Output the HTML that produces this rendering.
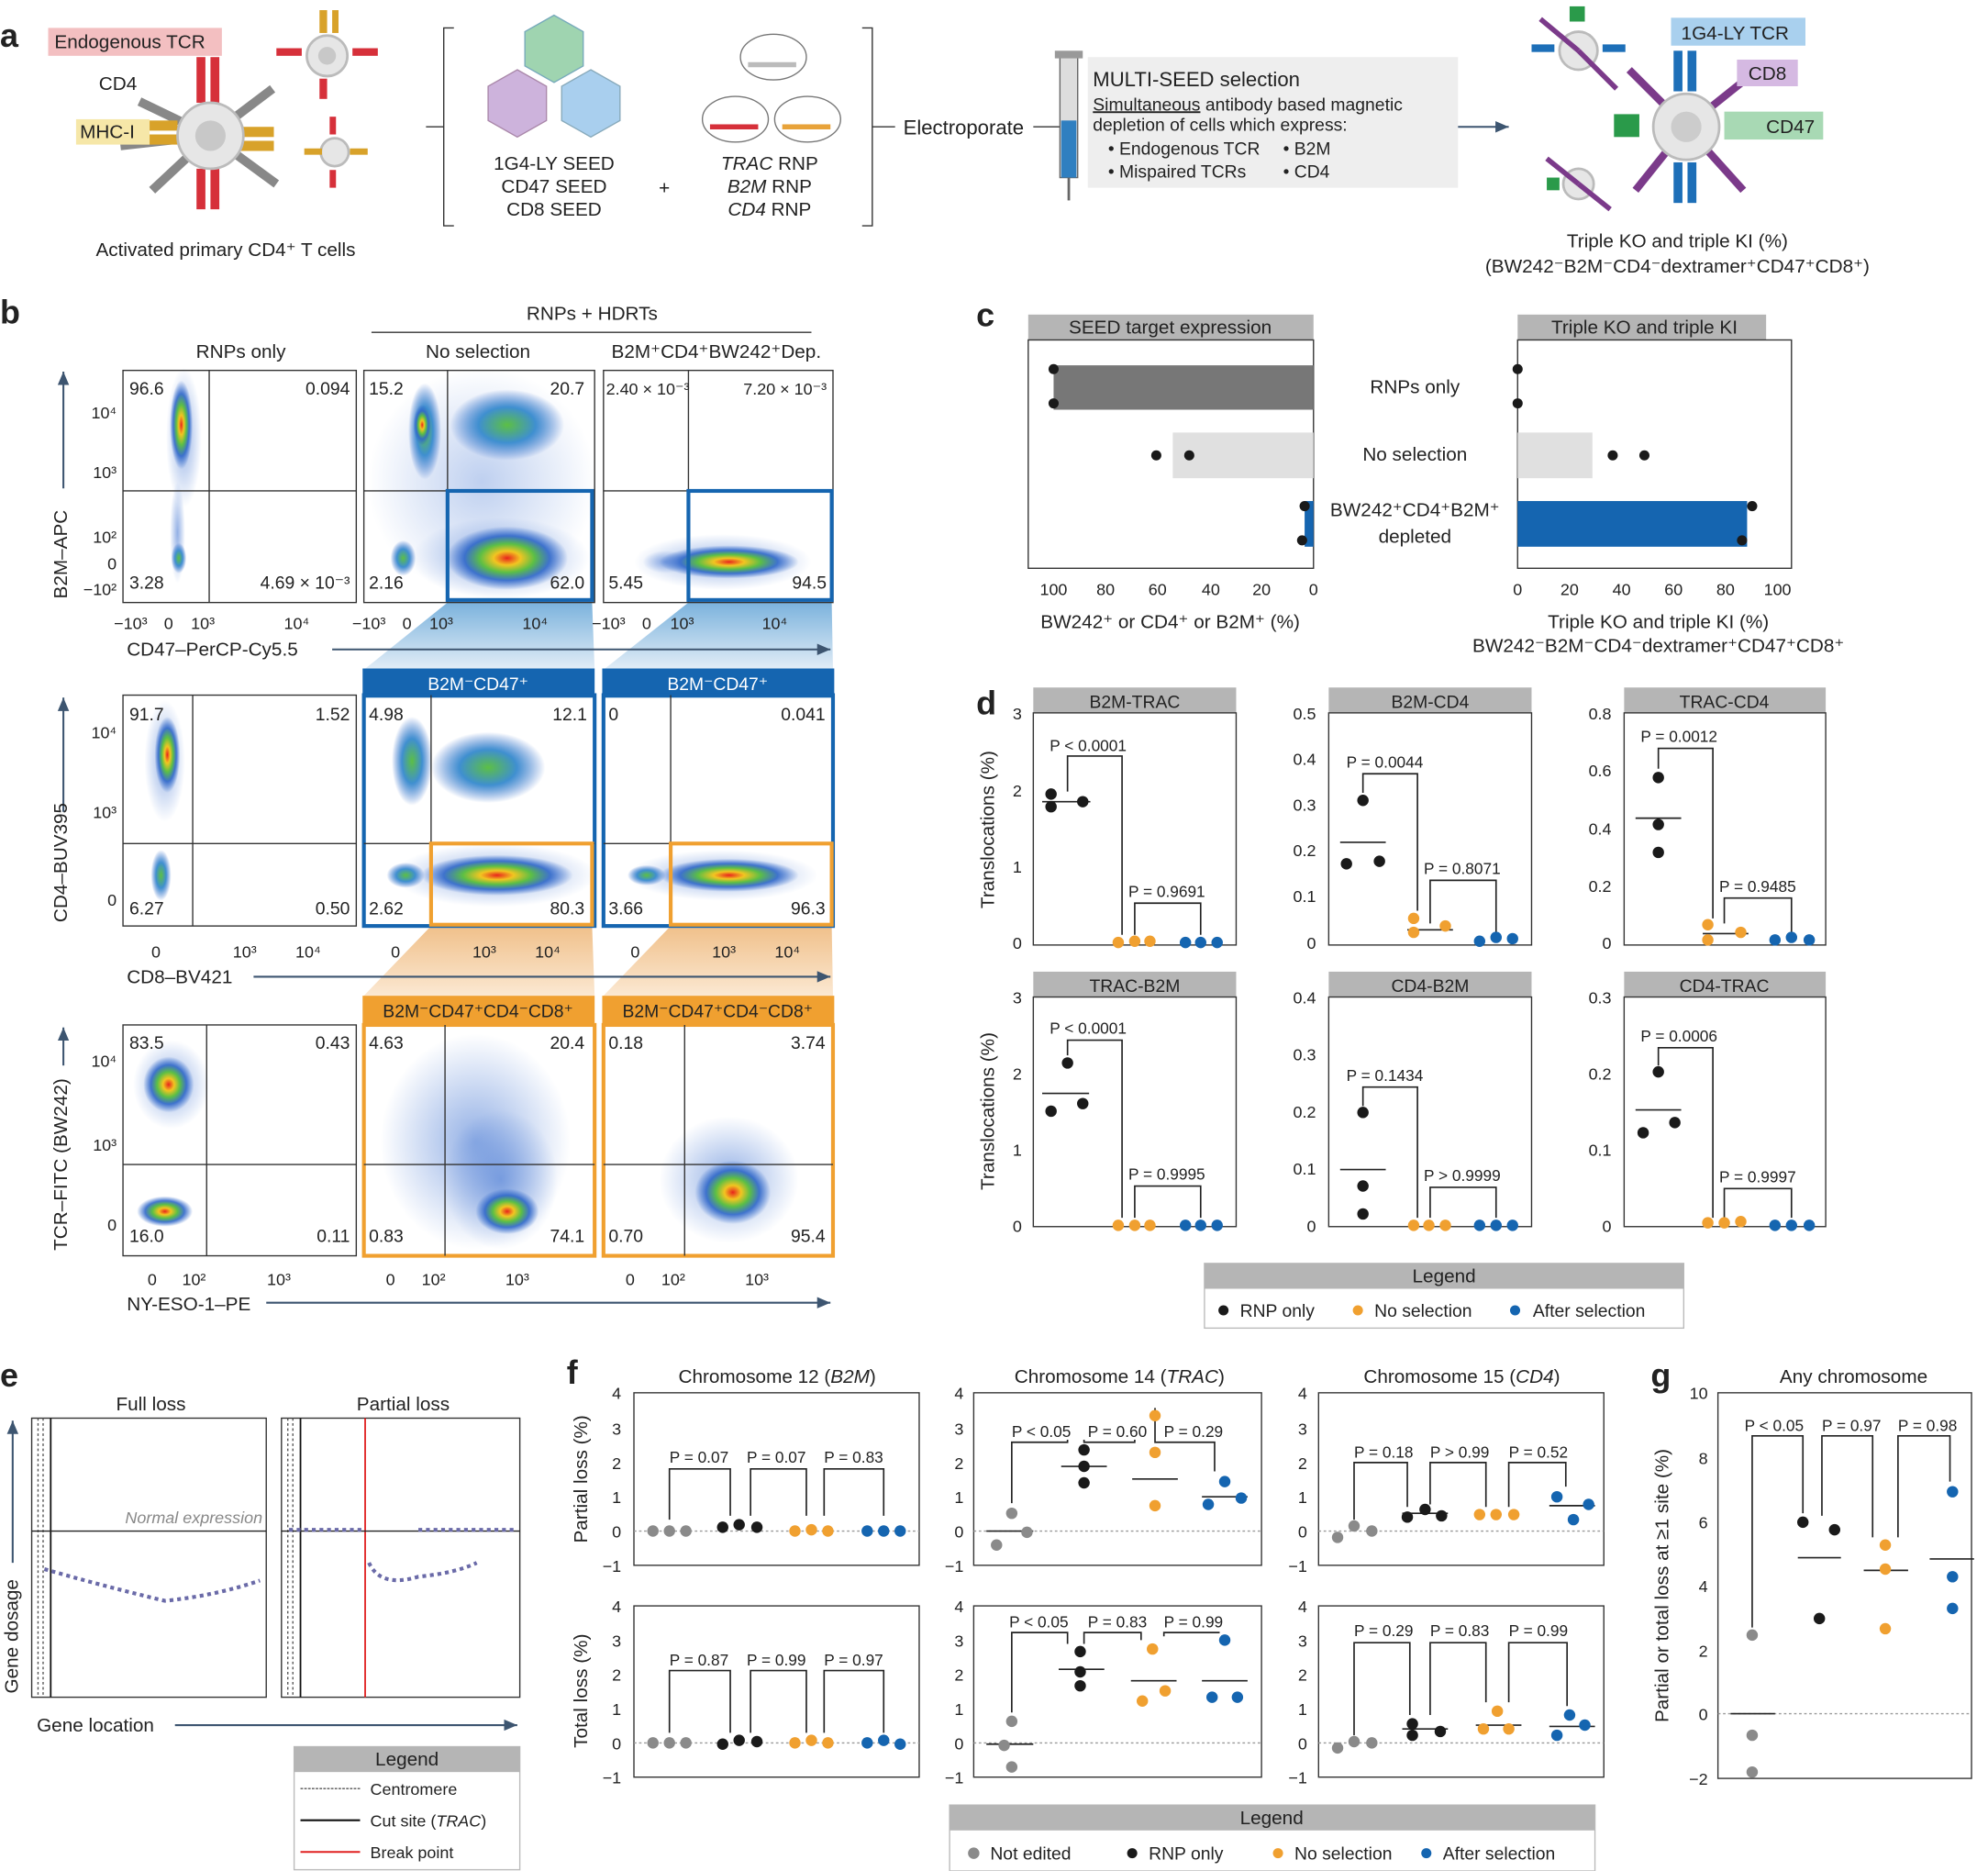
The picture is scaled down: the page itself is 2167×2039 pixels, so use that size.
<!DOCTYPE html>
<html><head><meta charset="utf-8"><style>
html,body{margin:0;padding:0;background:#fff}
svg{display:block}
text{font-family:"Liberation Sans",sans-serif;fill:#222}
.t{font-size:14px}.s{font-size:13px}.L{font-size:26px;font-weight:bold}
.bx{fill:none;stroke:#333;stroke-width:1}
.ax{stroke:#333;stroke-width:1;fill:none}
.br{stroke:#222;stroke-width:1.2;fill:none}
</style></head><body>
<svg width="2167" height="2039" viewBox="0 0 1568 1475" preserveAspectRatio="none" xmlns="http://www.w3.org/2000/svg">
<defs>
<radialGradient id="cl"><stop offset="0" stop-color="#e8241c"/><stop offset="0.22" stop-color="#f2c521"/><stop offset="0.45" stop-color="#5cbf45"/><stop offset="0.7" stop-color="#2f67c9" stop-opacity="0.9"/><stop offset="1" stop-color="#2f67c9" stop-opacity="0"/></radialGradient>
<radialGradient id="cg"><stop offset="0" stop-color="#5cbf45"/><stop offset="0.5" stop-color="#3f8fd0"/><stop offset="1" stop-color="#2f67c9" stop-opacity="0"/></radialGradient>
<radialGradient id="hl"><stop offset="0" stop-color="#3a6fd0" stop-opacity="0.55"/><stop offset="1" stop-color="#3a6fd0" stop-opacity="0"/></radialGradient>
<linearGradient id="bg" x1="0" y1="0" x2="0" y2="1"><stop offset="0" stop-color="#5a9fd4"/><stop offset="1" stop-color="#dbe9f5"/></linearGradient>
<linearGradient id="og" x1="0" y1="0" x2="0" y2="1"><stop offset="0" stop-color="#f0c08a"/><stop offset="1" stop-color="#fbe8d2"/></linearGradient>
<marker id="ar" markerWidth="8" markerHeight="8" refX="7" refY="4" orient="auto"><path d="M0,1 L7,4 L0,7 z" fill="#3d5570"/></marker>
</defs>

<text class="L" x="0" y="37">a</text><text class="L" x="0" y="255">b</text><text class="L" x="770" y="257">c</text>
<text class="L" x="770" y="563">d</text><text class="L" x="0" y="1093">e</text><text class="L" x="447" y="1091">f</text><text class="L" x="1302" y="1093">g</text>

<!-- ===== Panel a ===== -->
<g>
<g stroke="#888" stroke-width="7">
<line x1="166" y1="107" x2="110" y2="80"/><line x1="166" y1="107" x2="120" y2="150"/><line x1="166" y1="107" x2="215" y2="70"/><line x1="166" y1="107" x2="218" y2="145"/><line x1="166" y1="107" x2="95" y2="115"/>
</g>
<g fill="#d6303a"><rect x="155" y="45" width="7" height="36"/><rect x="166" y="45" width="7" height="36"/><rect x="155" y="133" width="7" height="32"/><rect x="166" y="133" width="7" height="32"/></g>
<g fill="#d8a22a"><rect x="112" y="95" width="28" height="8"/><rect x="112" y="106" width="28" height="8"/><rect x="190" y="100" width="26" height="8"/><rect x="190" y="111" width="26" height="8"/></g>
<circle cx="166" cy="107" r="26" fill="#e6e6e6" stroke="#bbb" stroke-width="2"/><circle cx="166" cy="107" r="12" fill="#c8c8c8"/>
<circle cx="258" cy="44" r="16" fill="#e6e6e6" stroke="#bbb" stroke-width="2"/><circle cx="258" cy="44" r="7" fill="#c8c8c8"/>
<g fill="#d6303a"><rect x="218" y="38" width="20" height="6"/><rect x="278" y="38" width="20" height="6"/><rect x="252" y="62" width="6" height="16"/></g>
<g fill="#d8a22a"><rect x="252" y="8" width="6" height="18"/><rect x="262" y="8" width="5" height="18"/></g>
<circle cx="264" cy="120" r="11" fill="#e6e6e6" stroke="#bbb" stroke-width="2"/>
<g fill="#d6303a"><rect x="260" y="92" width="5" height="14"/><rect x="260" y="134" width="5" height="14"/></g><g fill="#d8a22a"><rect x="240" y="117" width="14" height="5"/><rect x="276" y="117" width="14" height="5"/></g>
<rect x="38" y="22" width="137" height="22" fill="#f3bfc1"/><text class="t" x="43" y="38" style="font-size:15px">Endogenous TCR</text>
<text class="t" x="78" y="71" style="font-size:15px">CD4</text>
<rect x="60" y="94" width="58" height="20" fill="#f6e7a8"/><text class="t" x="63" y="109" style="font-size:15px">MHC-I</text>
<text class="t" x="178" y="202" text-anchor="middle" style="font-size:15px">Activated primary CD4⁺ T cells</text>

<path d="M358,22 H350 V178 H358" class="ax" stroke-width="1.5"/><path d="M680,22 H688 V178 H680" class="ax" stroke-width="1.5"/>
<line x1="336" y1="100" x2="350" y2="100" class="ax"/>
<polygon points="437,12 460,25 460,52 437,65 414,52 414,25" fill="#9fd4b0" stroke="#7ab" stroke-width="1"/>
<polygon points="408,55 431,68 431,95 408,108 385,95 385,68" fill="#cdb3dc" stroke="#a8a" stroke-width="1"/>
<polygon points="466,55 489,68 489,95 466,108 443,95 443,68" fill="#a9cfee" stroke="#8ab" stroke-width="1"/>
<text class="t" x="437" y="134" text-anchor="middle" style="font-size:15px">1G4-LY SEED</text><text class="t" x="437" y="152" text-anchor="middle" style="font-size:15px">CD47 SEED</text><text class="t" x="437" y="170" text-anchor="middle" style="font-size:15px">CD8 SEED</text>
<text class="t" x="524" y="153" text-anchor="middle" style="font-size:15px">+</text>
<ellipse cx="610" cy="45" rx="26" ry="18" fill="#fff" stroke="#777"/><ellipse cx="580" cy="94" rx="26" ry="18" fill="#fff" stroke="#777"/><ellipse cx="637" cy="94" rx="26" ry="18" fill="#fff" stroke="#777"/>
<rect x="560" y="98" width="38" height="4" fill="#d6303a"/><rect x="617" y="98" width="38" height="4" fill="#e8a33a"/><rect x="590" y="49" width="38" height="4" fill="#bbb"/>
<text class="t" x="607" y="134" text-anchor="middle" style="font-size:15px"><tspan font-style="italic">TRAC</tspan> RNP</text>
<text class="t" x="607" y="152" text-anchor="middle" style="font-size:15px"><tspan font-style="italic">B2M</tspan> RNP</text>
<text class="t" x="607" y="170" text-anchor="middle" style="font-size:15px"><tspan font-style="italic">CD4</tspan> RNP</text>
<line x1="688" y1="100" x2="706" y2="100" class="ax"/><text class="t" x="760" y="106" text-anchor="middle" style="font-size:16px">Electroporate</text><line x1="815" y1="100" x2="836" y2="100" class="ax"/>
<rect x="836" y="45" width="14" height="95" fill="#ddd" stroke="#666"/><rect x="837" y="95" width="12" height="45" fill="#2f7fc0"/><rect x="832" y="40" width="22" height="6" fill="#999"/><line x1="843" y1="140" x2="843" y2="158" stroke="#666" stroke-width="2"/>
<rect x="858" y="45" width="292" height="103" fill="#eeeeee"/>
<text x="862" y="68" style="font-size:16px">MULTI-SEED selection</text>
<text class="t" x="862" y="87"><tspan text-decoration="underline">Simultaneous</tspan> antibody based magnetic</text>
<text class="t" x="862" y="103">depletion of cells which express:</text>
<text class="t" x="874" y="122">•  Endogenous TCR</text><text class="t" x="1012" y="122">•  B2M</text>
<text class="t" x="874" y="140">•  Mispaired TCRs</text><text class="t" x="1012" y="140">•  CD4</text>
<line x1="1150" y1="100" x2="1190" y2="100" stroke="#3d5570" stroke-width="1.5" marker-end="url(#ar)"/>
<g stroke="#7b3a8a" stroke-width="6"><line x1="1330" y1="100" x2="1285" y2="55"/><line x1="1330" y1="100" x2="1290" y2="150"/><line x1="1330" y1="100" x2="1375" y2="150"/><line x1="1330" y1="100" x2="1380" y2="60"/></g>
<g fill="#1d6fb8"><rect x="1320" y="40" width="7" height="32"/><rect x="1331" y="40" width="7" height="32"/><rect x="1320" y="128" width="7" height="32"/><rect x="1331" y="128" width="7" height="32"/><rect x="1208" y="35" width="18" height="6"/><rect x="1264" y="35" width="18" height="6"/></g>
<g fill="#2a9a4a"><rect x="1273" y="90" width="20" height="18"/><rect x="1366" y="90" width="20" height="18"/><rect x="1238" y="5" width="12" height="12"/><rect x="1220" y="140" width="10" height="10"/></g>
<circle cx="1330" cy="100" r="26" fill="#e6e6e6" stroke="#bbb" stroke-width="2"/><circle cx="1330" cy="100" r="12" fill="#ccc"/>
<circle cx="1245" cy="40" r="15" fill="#e6e6e6" stroke="#bbb" stroke-width="2"/><circle cx="1245" cy="145" r="12" fill="#e6e6e6" stroke="#bbb" stroke-width="2"/>
<g stroke="#7b3a8a" stroke-width="4"><line x1="1245" y1="40" x2="1215" y2="15"/><line x1="1245" y1="40" x2="1275" y2="70"/><line x1="1245" y1="145" x2="1220" y2="125"/><line x1="1245" y1="145" x2="1270" y2="165"/></g>
<rect x="1318" y="14" width="106" height="22" fill="#a9d0ee"/><text class="t" x="1326" y="31" style="font-size:15px">1G4-LY TCR</text>
<rect x="1370" y="47" width="48" height="21" fill="#d5b9e2"/><text class="t" x="1379" y="63" style="font-size:15px">CD8</text>
<rect x="1360" y="88" width="78" height="22" fill="#a8d9b4"/><text class="t" x="1393" y="105" style="font-size:15px">CD47</text>
<text class="t" x="1323" y="195" text-anchor="middle" style="font-size:15px">Triple KO and triple KI (%)</text>
<text class="t" x="1323" y="215" text-anchor="middle" style="font-size:15px">(BW242⁻B2M⁻CD4⁻dextramer⁺CD47⁺CD8⁺)</text>
</g>

<!-- ===== Panel b ===== -->
<text class="t" x="467" y="252" text-anchor="middle" style="font-size:15px">RNPs + HDRTs</text><line x1="293" y1="262" x2="640" y2="262" class="ax"/>
<text class="t" x="190" y="282" text-anchor="middle" style="font-size:15px">RNPs only</text>
<text class="t" x="377" y="282" text-anchor="middle" style="font-size:15px">No selection</text>
<text class="t" x="565" y="282" text-anchor="middle" style="font-size:15px">B2M⁺CD4⁺BW242⁺Dep.</text>

<polygon points="353,475 467,475 469,528 287,528" fill="url(#bg)" opacity="0.8"/>
<polygon points="543,475 656,475 657,528 476,528" fill="url(#bg)" opacity="0.8"/>
<polygon points="340,730 467,730 469,785 287,785" fill="url(#og)"/>
<polygon points="529,730 656,730 657,785 476,785" fill="url(#og)"/>

<g>
<ellipse cx="145" cy="345" rx="14" ry="55" fill="url(#hl)"/><ellipse cx="143" cy="335" rx="9" ry="35" fill="url(#cl)"/>
<ellipse cx="140" cy="420" rx="6" ry="40" fill="url(#hl)"/><ellipse cx="141" cy="440" rx="6" ry="12" fill="url(#cg)"/>
<rect x="97" y="292" width="184" height="183" class="bx"/><line x1="165" y1="292" x2="165" y2="475" class="ax"/><line x1="97" y1="387" x2="281" y2="387" class="ax"/>
<text class="t" x="102" y="311">96.6</text><text class="t" x="276" y="311" text-anchor="end">0.094</text><text class="t" x="102" y="464">3.28</text><text class="t" x="276" y="464" text-anchor="end">4.69 × 10⁻³</text>

<ellipse cx="380" cy="380" rx="90" ry="90" fill="url(#hl)" opacity="0.6"/>
<ellipse cx="335" cy="340" rx="13" ry="38" fill="url(#cg)"/><ellipse cx="333" cy="335" rx="7" ry="16" fill="url(#cl)"/>
<ellipse cx="400" cy="335" rx="45" ry="28" fill="url(#cg)"/>
<ellipse cx="395" cy="440" rx="70" ry="32" fill="url(#hl)"/><ellipse cx="400" cy="440" rx="48" ry="25" fill="url(#cl)"/>
<ellipse cx="318" cy="440" rx="10" ry="14" fill="url(#cg)"/>
<rect x="287" y="292" width="182" height="183" class="bx"/><line x1="353" y1="292" x2="353" y2="475" class="ax"/><line x1="287" y1="387" x2="469" y2="387" class="ax"/>
<rect x="353" y="387" width="114" height="86" fill="none" stroke="#1565b0" stroke-width="3"/>
<text class="t" x="291" y="311">15.2</text><text class="t" x="461" y="311" text-anchor="end">20.7</text><text class="t" x="291" y="464">2.16</text><text class="t" x="461" y="464" text-anchor="end">62.0</text>

<ellipse cx="570" cy="443" rx="70" ry="22" fill="url(#hl)"/><ellipse cx="575" cy="443" rx="55" ry="13" fill="url(#cl)"/><ellipse cx="525" cy="443" rx="18" ry="9" fill="url(#hl)"/>
<rect x="476" y="292" width="181" height="183" class="bx"/><line x1="543" y1="292" x2="543" y2="475" class="ax"/><line x1="476" y1="387" x2="657" y2="387" class="ax"/>
<rect x="543" y="387" width="113" height="86" fill="none" stroke="#1565b0" stroke-width="3"/>
<text class="s" x="478" y="311">2.40 × 10⁻³</text><text class="s" x="652" y="311" text-anchor="end">7.20 × 10⁻³</text><text class="t" x="480" y="464">5.45</text><text class="t" x="652" y="464" text-anchor="end">94.5</text>

<line x1="50" y1="385" x2="50" y2="293" stroke="#3d5570" stroke-width="1.5" marker-end="url(#ar)"/>
<text class="t" x="53" y="437" transform="rotate(-90 53 437)" text-anchor="middle" style="font-size:15px">B2M–APC</text>
<text class="s" x="92" y="330" text-anchor="end">10⁴</text><text class="s" x="92" y="377" text-anchor="end">10³</text><text class="s" x="92" y="428" text-anchor="end">10²</text><text class="s" x="92" y="449" text-anchor="end">0</text><text class="s" x="92" y="469" text-anchor="end">−10²</text>
<g class="s" text-anchor="middle"><text x="103" y="496">−10³</text><text x="133" y="496">0</text><text x="160" y="496">10³</text><text x="234" y="496">10⁴</text>
<text x="291" y="496">−10³</text><text x="321" y="496">0</text><text x="348" y="496">10³</text><text x="422" y="496">10⁴</text>
<text x="480" y="496">−10³</text><text x="510" y="496">0</text><text x="538" y="496">10³</text><text x="611" y="496">10⁴</text></g>
<text class="t" x="100" y="517" style="font-size:15px">CD47–PerCP-Cy5.5</text><line x1="262" y1="512" x2="655" y2="512" stroke="#3d5570" stroke-width="1.5" marker-end="url(#ar)"/>
</g>

<g>
<rect x="286" y="527" width="183" height="23" fill="#1565b0"/><text class="t" x="377" y="544" text-anchor="middle" style="fill:#fff">B2M⁻CD47⁺</text>
<rect x="475" y="527" width="183" height="23" fill="#1565b0"/><text class="t" x="566" y="544" text-anchor="middle" style="fill:#fff">B2M⁻CD47⁺</text>
<ellipse cx="130" cy="600" rx="16" ry="48" fill="url(#hl)"/><ellipse cx="132" cy="595" rx="10" ry="30" fill="url(#cl)"/><ellipse cx="127" cy="690" rx="8" ry="20" fill="url(#cg)"/>
<rect x="97" y="548" width="184" height="182" class="bx"/><line x1="152" y1="548" x2="152" y2="730" class="ax"/><line x1="97" y1="665" x2="281" y2="665" class="ax"/>
<text class="t" x="102" y="568">91.7</text><text class="t" x="276" y="568" text-anchor="end">1.52</text><text class="t" x="102" y="721">6.27</text><text class="t" x="276" y="721" text-anchor="end">0.50</text>

<ellipse cx="325" cy="600" rx="16" ry="35" fill="url(#cg)"/><ellipse cx="385" cy="605" rx="45" ry="28" fill="url(#cg)"/>
<ellipse cx="390" cy="690" rx="80" ry="25" fill="url(#hl)"/><ellipse cx="392" cy="690" rx="60" ry="16" fill="url(#cl)"/><ellipse cx="320" cy="690" rx="15" ry="10" fill="url(#cg)"/>
<rect x="287" y="548" width="182" height="182" fill="none" stroke="#1565b0" stroke-width="3"/><line x1="340" y1="548" x2="340" y2="730" class="ax"/><line x1="287" y1="665" x2="469" y2="665" class="ax"/>
<rect x="340" y="665" width="127" height="64" fill="none" stroke="#f0a030" stroke-width="3"/>
<text class="t" x="291" y="568">4.98</text><text class="t" x="463" y="568" text-anchor="end">12.1</text><text class="t" x="291" y="721">2.62</text><text class="t" x="461" y="721" text-anchor="end">80.3</text>

<ellipse cx="570" cy="690" rx="75" ry="20" fill="url(#hl)"/><ellipse cx="575" cy="690" rx="55" ry="13" fill="url(#cl)"/><ellipse cx="510" cy="690" rx="15" ry="8" fill="url(#cg)"/>
<rect x="476" y="548" width="181" height="182" fill="none" stroke="#1565b0" stroke-width="3"/><line x1="529" y1="548" x2="529" y2="730" class="ax"/><line x1="476" y1="665" x2="657" y2="665" class="ax"/>
<rect x="529" y="665" width="127" height="64" fill="none" stroke="#f0a030" stroke-width="3"/>
<text class="t" x="480" y="568">0</text><text class="t" x="651" y="568" text-anchor="end">0.041</text><text class="t" x="480" y="721">3.66</text><text class="t" x="651" y="721" text-anchor="end">96.3</text>

<line x1="50" y1="640" x2="50" y2="550" stroke="#3d5570" stroke-width="1.5" marker-end="url(#ar)"/>
<text class="t" x="53" y="680" transform="rotate(-90 53 680)" text-anchor="middle" style="font-size:15px">CD4–BUV395</text>
<text class="s" x="92" y="582" text-anchor="end">10⁴</text><text class="s" x="92" y="645" text-anchor="end">10³</text><text class="s" x="92" y="714" text-anchor="end">0</text>
<g class="s" text-anchor="middle"><text x="123" y="755">0</text><text x="193" y="755">10³</text><text x="243" y="755">10⁴</text>
<text x="312" y="755">0</text><text x="382" y="755">10³</text><text x="432" y="755">10⁴</text>
<text x="501" y="755">0</text><text x="571" y="755">10³</text><text x="621" y="755">10⁴</text></g>
<text class="t" x="100" y="775" style="font-size:15px">CD8–BV421</text><line x1="200" y1="770" x2="655" y2="770" stroke="#3d5570" stroke-width="1.5" marker-end="url(#ar)"/>
</g>

<g>
<rect x="286" y="785" width="183" height="23" fill="#f0a030"/><text class="t" x="377" y="802" text-anchor="middle">B2M⁻CD47⁺CD4⁻CD8⁺</text>
<rect x="475" y="785" width="183" height="23" fill="#f0a030"/><text class="t" x="566" y="802" text-anchor="middle">B2M⁻CD47⁺CD4⁻CD8⁺</text>
<ellipse cx="135" cy="855" rx="30" ry="35" fill="url(#hl)"/><ellipse cx="133" cy="855" rx="20" ry="22" fill="url(#cl)"/><ellipse cx="130" cy="955" rx="22" ry="12" fill="url(#cl)"/>
<rect x="97" y="808" width="184" height="182" class="bx"/><line x1="163" y1="808" x2="163" y2="990" class="ax"/><line x1="97" y1="918" x2="281" y2="918" class="ax"/>
<text class="t" x="102" y="827">83.5</text><text class="t" x="276" y="827" text-anchor="end">0.43</text><text class="t" x="102" y="979">16.0</text><text class="t" x="276" y="979" text-anchor="end">0.11</text>

<ellipse cx="375" cy="900" rx="75" ry="85" fill="url(#hl)"/><ellipse cx="395" cy="930" rx="45" ry="55" fill="url(#hl)"/><ellipse cx="400" cy="955" rx="25" ry="18" fill="url(#cl)"/>
<rect x="287" y="808" width="182" height="182" fill="none" stroke="#f0a030" stroke-width="3"/><line x1="351" y1="808" x2="351" y2="990" class="ax"/><line x1="287" y1="918" x2="469" y2="918" class="ax"/>
<text class="t" x="291" y="827">4.63</text><text class="t" x="461" y="827" text-anchor="end">20.4</text><text class="t" x="291" y="979">0.83</text><text class="t" x="461" y="979" text-anchor="end">74.1</text>

<ellipse cx="575" cy="930" rx="55" ry="50" fill="url(#hl)"/><ellipse cx="578" cy="940" rx="30" ry="25" fill="url(#cl)"/>
<rect x="476" y="808" width="181" height="182" fill="none" stroke="#f0a030" stroke-width="3"/><line x1="540" y1="808" x2="540" y2="990" class="ax"/><line x1="476" y1="918" x2="657" y2="918" class="ax"/>
<text class="t" x="480" y="827">0.18</text><text class="t" x="651" y="827" text-anchor="end">3.74</text><text class="t" x="480" y="979">0.70</text><text class="t" x="651" y="979" text-anchor="end">95.4</text>

<line x1="50" y1="840" x2="50" y2="810" stroke="#3d5570" stroke-width="1.5" marker-end="url(#ar)"/>
<text class="t" x="53" y="918" transform="rotate(-90 53 918)" text-anchor="middle" style="font-size:15px">TCR–FITC (BW242)</text>
<text class="s" x="92" y="841" text-anchor="end">10⁴</text><text class="s" x="92" y="907" text-anchor="end">10³</text><text class="s" x="92" y="970" text-anchor="end">0</text>
<g class="s" text-anchor="middle"><text x="120" y="1013">0</text><text x="153" y="1013">10²</text><text x="220" y="1013">10³</text>
<text x="308" y="1013">0</text><text x="342" y="1013">10²</text><text x="408" y="1013">10³</text>
<text x="497" y="1013">0</text><text x="531" y="1013">10²</text><text x="597" y="1013">10³</text></g>
<text class="t" x="100" y="1033" style="font-size:15px">NY-ESO-1–PE</text><line x1="210" y1="1027" x2="655" y2="1027" stroke="#3d5570" stroke-width="1.5" marker-end="url(#ar)"/>
</g>

<!-- ===== Panel c ===== -->
<g>
<rect x="811" y="248" width="225" height="20" fill="#b5b5b5"/><text class="t" x="923" y="263" text-anchor="middle" style="font-size:15px">SEED target expression</text>
<rect x="811" y="268" width="225" height="180" class="bx"/>
<rect x="831" y="288" width="205" height="35" fill="#777"/><rect x="925" y="341" width="111" height="36" fill="#e0e0e0"/><rect x="1029" y="395" width="7" height="36" fill="#1565b0"/>
<g fill="#1a1a1a"><circle cx="831" cy="291" r="4"/><circle cx="831" cy="318" r="4"/><circle cx="912" cy="359" r="4"/><circle cx="938" cy="359" r="4"/><circle cx="1029" cy="399" r="4"/><circle cx="1027" cy="426" r="4"/></g>
<g class="s" text-anchor="middle"><text x="831" y="469">100</text><text x="872" y="469">80</text><text x="913" y="469">60</text><text x="955" y="469">40</text><text x="995" y="469">20</text><text x="1036" y="469">0</text></g>
<text class="t" x="923" y="495" text-anchor="middle" style="font-size:15px">BW242⁺ or CD4⁺ or B2M⁺ (%)</text>
<g class="t" text-anchor="middle" style="font-size:15px"><text x="1116" y="310">RNPs only</text><text x="1116" y="363">No selection</text><text x="1116" y="407">BW242⁺CD4⁺B2M⁺</text><text x="1116" y="428">depleted</text></g>
<rect x="1197" y="248" width="196" height="20" fill="#b5b5b5"/><text class="t" x="1297" y="263" text-anchor="middle" style="font-size:15px">Triple KO and triple KI</text>
<rect x="1197" y="268" width="216" height="180" class="bx"/>
<rect x="1197" y="341" width="59" height="36" fill="#e0e0e0"/><rect x="1197" y="395" width="181" height="36" fill="#1565b0"/>
<g fill="#1a1a1a"><circle cx="1197" cy="291" r="4"/><circle cx="1197" cy="318" r="4"/><circle cx="1272" cy="359" r="4"/><circle cx="1297" cy="359" r="4"/><circle cx="1382" cy="399" r="4"/><circle cx="1374" cy="426" r="4"/></g>
<g class="s" text-anchor="middle"><text x="1197" y="469">0</text><text x="1238" y="469">20</text><text x="1279" y="469">40</text><text x="1320" y="469">60</text><text x="1361" y="469">80</text><text x="1402" y="469">100</text></g>
<text class="t" x="1308" y="495" text-anchor="middle" style="font-size:15px">Triple KO and triple KI (%)</text>
<text class="t" x="1308" y="514" text-anchor="middle" style="font-size:15px">BW242⁻B2M⁻CD4⁻dextramer⁺CD47⁺CD8⁺</text>
</g>

<!-- ===== Panel d ===== -->
<g>
<g fill="#b5b5b5"><rect x="815" y="542" width="160" height="20"/><rect x="1048" y="542" width="160" height="20"/><rect x="1281" y="542" width="159" height="20"/>
<rect x="815" y="766" width="160" height="20"/><rect x="1048" y="766" width="160" height="20"/><rect x="1281" y="766" width="159" height="20"/></g>
<g class="t" text-anchor="middle"><text x="895" y="558">B2M-TRAC</text><text x="1128" y="558">B2M-CD4</text><text x="1360" y="558">TRAC-CD4</text>
<text x="895" y="782">TRAC-B2M</text><text x="1128" y="782">CD4-B2M</text><text x="1360" y="782">CD4-TRAC</text></g>
<g class="bx"><rect x="815" y="562" width="160" height="183"/><rect x="1048" y="562" width="160" height="183"/><rect x="1281" y="562" width="159" height="183"/>
<rect x="815" y="786" width="160" height="181"/><rect x="1048" y="786" width="160" height="181"/><rect x="1281" y="786" width="159" height="181"/></g>
<g class="s" text-anchor="end">
<text x="806" y="567">3</text><text x="806" y="628">2</text><text x="806" y="688">1</text><text x="806" y="748">0</text>
<text x="1038" y="567">0.5</text><text x="1038" y="603">0.4</text><text x="1038" y="639">0.3</text><text x="1038" y="675">0.2</text><text x="1038" y="711">0.1</text><text x="1038" y="748">0</text>
<text x="1271" y="567">0.8</text><text x="1271" y="612">0.6</text><text x="1271" y="658">0.4</text><text x="1271" y="703">0.2</text><text x="1271" y="748">0</text>
<text x="806" y="791">3</text><text x="806" y="851">2</text><text x="806" y="911">1</text><text x="806" y="971">0</text>
<text x="1038" y="791">0.4</text><text x="1038" y="836">0.3</text><text x="1038" y="881">0.2</text><text x="1038" y="926">0.1</text><text x="1038" y="971">0</text>
<text x="1271" y="791">0.3</text><text x="1271" y="851">0.2</text><text x="1271" y="911">0.1</text><text x="1271" y="971">0</text></g>
<text class="t" x="784" y="654" transform="rotate(-90 784 654)" text-anchor="middle" style="font-size:15px">Translocations (%)</text>
<text class="t" x="784" y="876" transform="rotate(-90 784 876)" text-anchor="middle" style="font-size:15px">Translocations (%)</text>
<g stroke="#222" stroke-width="1.2">
<line x1="822" y1="632" x2="860" y2="632"/><line x1="1057" y1="664" x2="1093" y2="664"/><line x1="1290" y1="645" x2="1326" y2="645"/>
<line x1="822" y1="862" x2="859" y2="862"/><line x1="1057" y1="922" x2="1093" y2="922"/><line x1="1290" y1="875" x2="1326" y2="875"/>
<line x1="1110" y1="733" x2="1146" y2="733"/><line x1="1343" y1="736" x2="1379" y2="736"/></g>
<g class="br">
<path d="M842,624 V596 H885 V737"/><path d="M895,737 V712 H947 V737"/>
<path d="M1075,625 V610 H1118 V718"/><path d="M1128,728 V694 H1180 V735"/>
<path d="M1308,606 V590 H1351 V724"/><path d="M1360,728 V708 H1413 V735"/>
<path d="M842,832 V820 H885 V960"/><path d="M895,960 V935 H947 V960"/>
<path d="M1075,872 V857 H1118 V960"/><path d="M1128,960 V936 H1180 V960"/>
<path d="M1308,840 V826 H1351 V960"/><path d="M1360,960 V937 H1413 V960"/></g>
<g class="s" style="font-size:12.5px">
<text x="828" y="592">P &lt; 0.0001</text><text x="890" y="707">P = 0.9691</text>
<text x="1062" y="605">P = 0.0044</text><text x="1123" y="689">P = 0.8071</text>
<text x="1294" y="585">P = 0.0012</text><text x="1356" y="703">P = 0.9485</text>
<text x="828" y="815">P &lt; 0.0001</text><text x="890" y="930">P = 0.9995</text>
<text x="1062" y="852">P = 0.1434</text><text x="1123" y="931">P &gt; 0.9999</text>
<text x="1294" y="821">P = 0.0006</text><text x="1356" y="932">P = 0.9997</text></g>
<g fill="#1a1a1a"><circle cx="829" cy="626" r="4.5"/><circle cx="829" cy="636" r="4.5"/><circle cx="854" cy="632" r="4.5"/>
<circle cx="1062" cy="681" r="4.5"/><circle cx="1075" cy="631" r="4.5"/><circle cx="1088" cy="679" r="4.5"/>
<circle cx="1308" cy="613" r="4.5"/><circle cx="1308" cy="650" r="4.5"/><circle cx="1308" cy="672" r="4.5"/>
<circle cx="829" cy="876" r="4.5"/><circle cx="842" cy="838" r="4.5"/><circle cx="854" cy="870" r="4.5"/>
<circle cx="1075" cy="877" r="4.5"/><circle cx="1075" cy="935" r="4.5"/><circle cx="1075" cy="957" r="4.5"/>
<circle cx="1296" cy="893" r="4.5"/><circle cx="1308" cy="845" r="4.5"/><circle cx="1321" cy="885" r="4.5"/></g>
<g fill="#f0a030"><circle cx="882" cy="743" r="4.5"/><circle cx="895" cy="742" r="4.5"/><circle cx="907" cy="742" r="4.5"/>
<circle cx="1115" cy="724" r="4.5"/><circle cx="1115" cy="735" r="4.5"/><circle cx="1140" cy="730" r="4.5"/>
<circle cx="1347" cy="729" r="4.5"/><circle cx="1347" cy="741" r="4.5"/><circle cx="1373" cy="735" r="4.5"/>
<circle cx="882" cy="966" r="4.5"/><circle cx="895" cy="966" r="4.5"/><circle cx="907" cy="966" r="4.5"/>
<circle cx="1115" cy="966" r="4.5"/><circle cx="1127" cy="966" r="4.5"/><circle cx="1140" cy="966" r="4.5"/>
<circle cx="1347" cy="964" r="4.5"/><circle cx="1360" cy="964" r="4.5"/><circle cx="1373" cy="963" r="4.5"/></g>
<g fill="#1565b0"><circle cx="935" cy="743" r="4.5"/><circle cx="947" cy="743" r="4.5"/><circle cx="960" cy="743" r="4.5"/>
<circle cx="1167" cy="742" r="4.5"/><circle cx="1180" cy="739" r="4.5"/><circle cx="1193" cy="740" r="4.5"/>
<circle cx="1400" cy="741" r="4.5"/><circle cx="1413" cy="739" r="4.5"/><circle cx="1427" cy="741" r="4.5"/>
<circle cx="935" cy="966" r="4.5"/><circle cx="947" cy="966" r="4.5"/><circle cx="960" cy="966" r="4.5"/>
<circle cx="1167" cy="966" r="4.5"/><circle cx="1180" cy="966" r="4.5"/><circle cx="1193" cy="966" r="4.5"/>
<circle cx="1400" cy="966" r="4.5"/><circle cx="1413" cy="966" r="4.5"/><circle cx="1427" cy="966" r="4.5"/></g>
<rect x="950" y="996" width="378" height="51" fill="none" stroke="#bbb"/><rect x="950" y="996" width="378" height="20" fill="#b5b5b5"/>
<text class="t" x="1139" y="1011" text-anchor="middle" style="font-size:15px">Legend</text>
<circle cx="965" cy="1033" r="4" fill="#1a1a1a"/><text class="t" x="978" y="1038">RNP only</text>
<circle cx="1071" cy="1033" r="4" fill="#f0a030"/><text class="t" x="1084" y="1038">No selection</text>
<circle cx="1195" cy="1033" r="4" fill="#1565b0"/><text class="t" x="1209" y="1038">After selection</text>
</g>

<!-- ===== Panel e ===== -->
<g>
<text class="t" x="119" y="1112" text-anchor="middle" style="font-size:15px">Full loss</text><text class="t" x="318" y="1112" text-anchor="middle" style="font-size:15px">Partial loss</text>
<rect x="25" y="1118" width="185" height="220" class="bx"/><rect x="222" y="1118" width="188" height="220" class="bx"/>
<g stroke="#555" stroke-dasharray="2,2"><line x1="30" y1="1118" x2="30" y2="1338"/><line x1="34" y1="1118" x2="34" y2="1338"/><line x1="227" y1="1118" x2="227" y2="1338"/><line x1="231" y1="1118" x2="231" y2="1338"/></g>
<line x1="40" y1="1118" x2="40" y2="1338" stroke="#111" stroke-width="1.3"/><line x1="237" y1="1118" x2="237" y2="1338" stroke="#111" stroke-width="1.3"/>
<line x1="288" y1="1118" x2="288" y2="1338" stroke="#e02020" stroke-width="1.3"/>
<line x1="25" y1="1207" x2="210" y2="1207" stroke="#222"/><line x1="222" y1="1207" x2="410" y2="1207" stroke="#222"/>
<text x="207" y="1201" text-anchor="end" style="font-size:13px;font-style:italic;fill:#888">Normal expression</text>
<path d="M35,1237 Q80,1250 130,1262 Q170,1258 205,1246" fill="none" stroke="#6a6aa8" stroke-width="3" stroke-dasharray="3,3"/>
<path d="M228,1206 H286 M291,1232 Q300,1252 330,1243 Q360,1240 376,1232" fill="none" stroke="#6a6aa8" stroke-width="3" stroke-dasharray="3,3"/>
<path d="M330,1206 H408" fill="none" stroke="#6a6aa8" stroke-width="3" stroke-dasharray="3,3"/>
<line x1="10" y1="1232" x2="10" y2="1120" stroke="#3d5570" stroke-width="1.5" marker-end="url(#ar)"/>
<text class="t" x="14" y="1290" transform="rotate(-90 14 1290)" text-anchor="middle" style="font-size:15px">Gene dosage</text>
<text class="t" x="29" y="1365" style="font-size:15px">Gene location</text><line x1="138" y1="1360" x2="408" y2="1360" stroke="#3d5570" stroke-width="1.5" marker-end="url(#ar)"/>
<rect x="232" y="1377" width="178" height="97" fill="none" stroke="#bbb"/><rect x="232" y="1377" width="178" height="20" fill="#b5b5b5"/>
<text class="t" x="321" y="1392" text-anchor="middle" style="font-size:15px">Legend</text>
<line x1="237" y1="1410" x2="284" y2="1410" stroke="#555" stroke-dasharray="2,1"/><text class="s" x="292" y="1415">Centromere</text>
<line x1="237" y1="1435" x2="284" y2="1435" stroke="#111" stroke-width="1.5"/><text class="s" x="292" y="1440">Cut site (<tspan font-style="italic">TRAC</tspan>)</text>
<line x1="237" y1="1460" x2="284" y2="1460" stroke="#e02020" stroke-width="1.5"/><text class="s" x="292" y="1465">Break point</text>
</g>

<!-- ===== Panel f ===== -->
<g>
<g class="t" text-anchor="middle" style="font-size:15px"><text x="613" y="1090">Chromosome 12 (<tspan font-style="italic">B2M</tspan>)</text><text x="883" y="1090">Chromosome 14 (<tspan font-style="italic">TRAC</tspan>)</text><text x="1153" y="1090">Chromosome 15 (<tspan font-style="italic">CD4</tspan>)</text><text x="1462" y="1090">Any chromosome</text></g>
<g class="bx"><rect x="500" y="1098" width="225" height="136"/><rect x="768" y="1098" width="227" height="136"/><rect x="1040" y="1098" width="225" height="136"/>
<rect x="500" y="1266" width="225" height="135"/><rect x="768" y="1266" width="227" height="135"/><rect x="1040" y="1266" width="225" height="135"/>
<rect x="1355" y="1098" width="200" height="304"/></g>
<g stroke="#999" stroke-dasharray="2,2"><line x1="500" y1="1207" x2="725" y2="1207"/><line x1="768" y1="1207" x2="995" y2="1207"/><line x1="1040" y1="1207" x2="1265" y2="1207"/>
<line x1="500" y1="1374" x2="725" y2="1374"/><line x1="768" y1="1374" x2="995" y2="1374"/><line x1="1040" y1="1374" x2="1265" y2="1374"/><line x1="1355" y1="1351" x2="1555" y2="1351"/></g>
<g class="s" text-anchor="end">
<text x="490" y="1103">4</text><text x="490" y="1131">3</text><text x="490" y="1158">2</text><text x="490" y="1185">1</text><text x="490" y="1212">0</text><text x="490" y="1239">−1</text>
<text x="760" y="1103">4</text><text x="760" y="1131">3</text><text x="760" y="1158">2</text><text x="760" y="1185">1</text><text x="760" y="1212">0</text><text x="760" y="1239">−1</text>
<text x="1031" y="1103">4</text><text x="1031" y="1131">3</text><text x="1031" y="1158">2</text><text x="1031" y="1185">1</text><text x="1031" y="1212">0</text><text x="1031" y="1239">−1</text>
<text x="490" y="1271">4</text><text x="490" y="1298">3</text><text x="490" y="1325">2</text><text x="490" y="1352">1</text><text x="490" y="1379">0</text><text x="490" y="1406">−1</text>
<text x="760" y="1271">4</text><text x="760" y="1298">3</text><text x="760" y="1325">2</text><text x="760" y="1352">1</text><text x="760" y="1379">0</text><text x="760" y="1406">−1</text>
<text x="1031" y="1271">4</text><text x="1031" y="1298">3</text><text x="1031" y="1325">2</text><text x="1031" y="1352">1</text><text x="1031" y="1379">0</text><text x="1031" y="1406">−1</text>
<text x="1347" y="1103">10</text><text x="1347" y="1154">8</text><text x="1347" y="1205">6</text><text x="1347" y="1255">4</text><text x="1347" y="1306">2</text><text x="1347" y="1356">0</text><text x="1347" y="1407">−2</text></g>
<text class="t" x="463" y="1166" transform="rotate(-90 463 1166)" text-anchor="middle" style="font-size:15px">Partial loss (%)</text>
<text class="t" x="463" y="1333" transform="rotate(-90 463 1333)" text-anchor="middle" style="font-size:15px">Total loss (%)</text>
<text class="t" x="1316" y="1250" transform="rotate(-90 1316 1250)" text-anchor="middle" style="font-size:15px">Partial or total loss at ≥1 site (%)</text>
<g class="br">
<path d="M528,1198 V1158 H576 V1195"/><path d="M592,1195 V1158 H636 V1195"/><path d="M650,1195 V1158 H697 V1195"/>
<path d="M798,1185 V1137 H842 V1135"/><path d="M855,1135 V1137 H895 V1135"/><path d="M911,1110 V1137 H958 V1160"/>
<path d="M1068,1198 V1153 H1110 V1188"/><path d="M1128,1186 V1153 H1172 V1188"/><path d="M1190,1188 V1153 H1235 V1172"/>
<path d="M528,1366 V1317 H576 V1366"/><path d="M592,1366 V1317 H636 V1366"/><path d="M650,1366 V1317 H697 V1366"/>
<path d="M798,1350 V1287 H842 V1296"/><path d="M855,1296 V1287 H900 V1293"/><path d="M918,1290 V1287 H962 V1287"/>
<path d="M1068,1368 V1295 H1112 V1352"/><path d="M1128,1352 V1295 H1172 V1342"/><path d="M1190,1342 V1295 H1236 V1345"/>
<path d="M1382,1283 V1132 H1422 V1193"/><path d="M1437,1195 V1132 H1477 V1212"/><path d="M1497,1212 V1132 H1538 V1168"/></g>
<g class="s" style="font-size:12.5px">
<text x="528" y="1153">P = 0.07</text><text x="589" y="1153">P = 0.07</text><text x="650" y="1153">P = 0.83</text>
<text x="798" y="1133">P &lt; 0.05</text><text x="858" y="1133">P = 0.60</text><text x="918" y="1133">P = 0.29</text>
<text x="1068" y="1149">P = 0.18</text><text x="1128" y="1149">P &gt; 0.99</text><text x="1190" y="1149">P = 0.52</text>
<text x="528" y="1313">P = 0.87</text><text x="589" y="1313">P = 0.99</text><text x="650" y="1313">P = 0.97</text>
<text x="796" y="1283">P &lt; 0.05</text><text x="858" y="1283">P = 0.83</text><text x="918" y="1283">P = 0.99</text>
<text x="1068" y="1290">P = 0.29</text><text x="1128" y="1290">P = 0.83</text><text x="1190" y="1290">P = 0.99</text>
<text x="1376" y="1128">P &lt; 0.05</text><text x="1437" y="1128">P = 0.97</text><text x="1497" y="1128">P = 0.98</text></g>
<g stroke="#222" stroke-width="1.2">
<line x1="778" y1="1207" x2="815" y2="1207"/><line x1="837" y1="1156" x2="873" y2="1156"/><line x1="893" y1="1166" x2="929" y2="1166"/><line x1="948" y1="1180" x2="984" y2="1180"/>
<line x1="1106" y1="1193" x2="1142" y2="1193"/><line x1="1222" y1="1187" x2="1258" y2="1187"/>
<line x1="778" y1="1375" x2="815" y2="1375"/><line x1="835" y1="1316" x2="871" y2="1316"/><line x1="892" y1="1325" x2="928" y2="1325"/><line x1="948" y1="1325" x2="984" y2="1325"/>
<line x1="1106" y1="1363" x2="1142" y2="1363"/><line x1="1164" y1="1360" x2="1200" y2="1360"/><line x1="1222" y1="1361" x2="1258" y2="1361"/>
<line x1="1365" y1="1351" x2="1400" y2="1351"/><line x1="1418" y1="1228" x2="1452" y2="1228"/><line x1="1470" y1="1238" x2="1505" y2="1238"/><line x1="1522" y1="1229" x2="1557" y2="1229"/></g>
<g fill="#8a8a8a"><circle cx="515" cy="1207" r="4.5"/><circle cx="528" cy="1207" r="4.5"/><circle cx="541" cy="1207" r="4.5"/>
<circle cx="786" cy="1218" r="4.5"/><circle cx="798" cy="1193" r="4.5"/><circle cx="810" cy="1208" r="4.5"/>
<circle cx="1055" cy="1212" r="4.5"/><circle cx="1068" cy="1203" r="4.5"/><circle cx="1082" cy="1207" r="4.5"/>
<circle cx="515" cy="1374" r="4.5"/><circle cx="528" cy="1374" r="4.5"/><circle cx="541" cy="1374" r="4.5"/>
<circle cx="798" cy="1357" r="4.5"/><circle cx="792" cy="1376" r="4.5"/><circle cx="798" cy="1393" r="4.5"/>
<circle cx="1055" cy="1378" r="4.5"/><circle cx="1068" cy="1373" r="4.5"/><circle cx="1082" cy="1374" r="4.5"/>
<circle cx="1382" cy="1289" r="4.5"/><circle cx="1382" cy="1368" r="4.5"/><circle cx="1382" cy="1397" r="4.5"/>
<circle cx="768" cy="1461" r="4.5"/></g>
<g fill="#1a1a1a"><circle cx="570" cy="1204" r="4.5"/><circle cx="583" cy="1202" r="4.5"/><circle cx="597" cy="1204" r="4.5"/>
<circle cx="855" cy="1143" r="4.5"/><circle cx="855" cy="1156" r="4.5"/><circle cx="855" cy="1169" r="4.5"/>
<circle cx="1110" cy="1196" r="4.5"/><circle cx="1124" cy="1190" r="4.5"/><circle cx="1137" cy="1195" r="4.5"/>
<circle cx="570" cy="1375" r="4.5"/><circle cx="583" cy="1372" r="4.5"/><circle cx="597" cy="1373" r="4.5"/>
<circle cx="852" cy="1302" r="4.5"/><circle cx="852" cy="1318" r="4.5"/><circle cx="852" cy="1329" r="4.5"/>
<circle cx="1114" cy="1359" r="4.5"/><circle cx="1114" cy="1368" r="4.5"/><circle cx="1136" cy="1365" r="4.5"/>
<circle cx="1422" cy="1200" r="4.5"/><circle cx="1447" cy="1206" r="4.5"/><circle cx="1435" cy="1276" r="4.5"/>
<circle cx="893" cy="1461" r="4"/></g>
<g fill="#f0a030"><circle cx="627" cy="1207" r="4.5"/><circle cx="640" cy="1206" r="4.5"/><circle cx="653" cy="1207" r="4.5"/>
<circle cx="911" cy="1116" r="4.5"/><circle cx="911" cy="1145" r="4.5"/><circle cx="911" cy="1187" r="4.5"/>
<circle cx="1167" cy="1194" r="4.5"/><circle cx="1180" cy="1194" r="4.5"/><circle cx="1194" cy="1194" r="4.5"/>
<circle cx="627" cy="1374" r="4.5"/><circle cx="640" cy="1372" r="4.5"/><circle cx="653" cy="1374" r="4.5"/>
<circle cx="909" cy="1300" r="4.5"/><circle cx="919" cy="1333" r="4.5"/><circle cx="901" cy="1341" r="4.5"/>
<circle cx="1181" cy="1349" r="4.5"/><circle cx="1170" cy="1363" r="4.5"/><circle cx="1190" cy="1363" r="4.5"/>
<circle cx="1487" cy="1218" r="4.5"/><circle cx="1487" cy="1237" r="4.5"/><circle cx="1487" cy="1284" r="4.5"/>
<circle cx="1008" cy="1461" r="4"/></g>
<g fill="#1565b0"><circle cx="684" cy="1207" r="4.5"/><circle cx="697" cy="1207" r="4.5"/><circle cx="710" cy="1207" r="4.5"/>
<circle cx="966" cy="1168" r="4.5"/><circle cx="979" cy="1181" r="4.5"/><circle cx="953" cy="1186" r="4.5"/>
<circle cx="1228" cy="1180" r="4.5"/><circle cx="1241" cy="1198" r="4.5"/><circle cx="1253" cy="1186" r="4.5"/>
<circle cx="684" cy="1374" r="4.5"/><circle cx="697" cy="1372" r="4.5"/><circle cx="710" cy="1375" r="4.5"/>
<circle cx="966" cy="1293" r="4.5"/><circle cx="956" cy="1338" r="4.5"/><circle cx="976" cy="1338" r="4.5"/>
<circle cx="1238" cy="1352" r="4.5"/><circle cx="1228" cy="1368" r="4.5"/><circle cx="1250" cy="1360" r="4.5"/>
<circle cx="1540" cy="1176" r="4.5"/><circle cx="1540" cy="1243" r="4.5"/><circle cx="1540" cy="1268" r="4.5"/>
<circle cx="1125" cy="1461" r="4"/></g>
<rect x="749" y="1423" width="509" height="52" fill="none" stroke="#bbb"/><rect x="749" y="1423" width="509" height="20" fill="#b5b5b5"/>
<text class="t" x="1003" y="1438" text-anchor="middle" style="font-size:15px">Legend</text>
<text class="t" x="781" y="1466">Not edited</text><text class="t" x="906" y="1466">RNP only</text><text class="t" x="1021" y="1466">No selection</text><text class="t" x="1138" y="1466">After selection</text>
</g>
</svg>
</body></html>
